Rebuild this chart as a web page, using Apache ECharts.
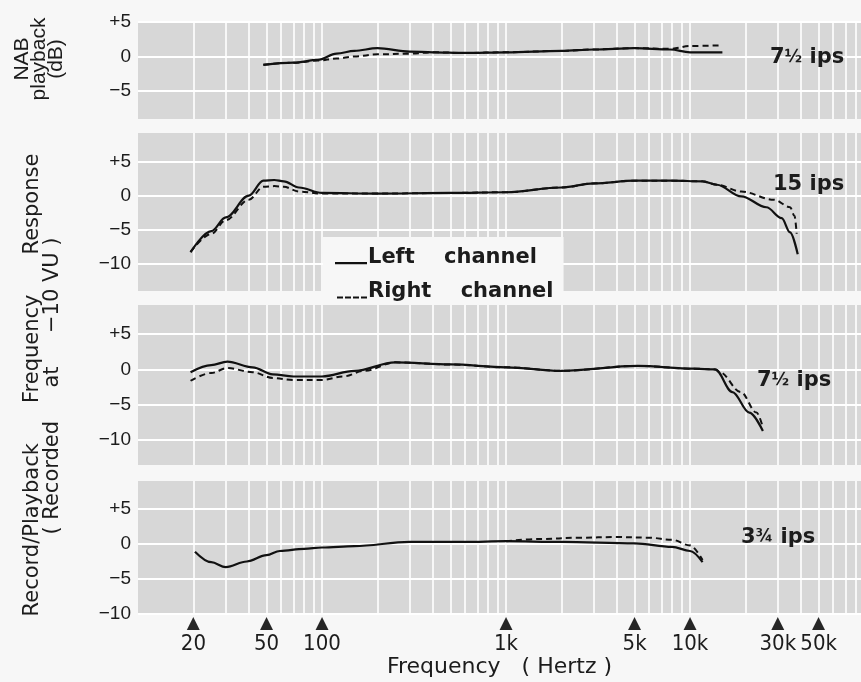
<!DOCTYPE html>
<html><head><meta charset="utf-8">
<script src="https://cdn.jsdelivr.net/npm/echarts@6/dist/echarts.min.js"></script>
<style>html,body{margin:0;padding:0;background:#f7f7f7}#c{width:861px;height:682px}</style>
</head><body><div id="c"></div><script>
// ---- data (frequency in Hz, response in dB) ----
const nabFreqL = [48, 70, 95, 120, 150, 200, 300, 400, 600, 1000, 2000, 3000, 5000, 7800, 10000, 15000];
const nabLeft  = [-1.2, -0.9, -0.5, 0.4, 0.8, 1.2, 0.7, 0.6, 0.5, 0.6, 0.8, 1.0, 1.2, 1.0, 0.6, 0.6];
const nabFreqR = [48, 70, 95, 120, 150, 200, 300, 400, 600, 1000, 2000, 3000, 5000, 7800, 10000, 15000];
const nabRight = [-1.2, -0.9, -0.6, -0.3, 0.0, 0.3, 0.4, 0.6, 0.5, 0.6, 0.8, 1.0, 1.2, 1.1, 1.5, 1.6];

const ips15FreqL = [19.3, 25, 30, 40, 48, 55, 62, 75, 100, 200, 500, 1000, 2000, 3000, 5000, 8000, 11700, 14000, 19000, 26000, 31500, 35000, 38500];
const ips15Left  = [-8.3, -5.2, -3.2, 0.0, 2.2, 2.3, 2.1, 1.2, 0.4, 0.3, 0.4, 0.5, 1.2, 1.8, 2.2, 2.2, 2.1, 1.6, -0.1, -1.7, -3.3, -5.4, -8.6];
const ips15FreqR = [19.3, 25, 30, 40, 48, 55, 62, 75, 100, 200, 500, 1000, 2000, 3000, 5000, 8000, 11700, 14000, 19000, 28600, 35000, 37000, 38000];
const ips15Right = [-8.3, -5.6, -3.6, -0.6, 1.3, 1.4, 1.3, 0.6, 0.3, 0.3, 0.4, 0.5, 1.2, 1.8, 2.2, 2.2, 2.1, 1.6, 0.6, -0.6, -1.7, -3.0, -5.6];

const ips75FreqL = [19.3, 25, 30.6, 42, 54, 70, 100, 150, 250, 500, 1000, 2000, 5200, 10500, 13700, 17000, 21000, 24900];
const ips75Left  = [-0.4, 0.6, 1.1, 0.3, -0.7, -1.0, -1.0, -0.2, 1.0, 0.7, 0.3, -0.2, 0.5, 0.1, 0.0, -3.2, -6.1, -8.7];
const ips75FreqR = [19.3, 25, 30.6, 42, 54, 70, 100, 130, 170, 250, 500, 1000, 2000, 5200, 10500, 13700, 14500, 18900, 23000, 24900];
const ips75Right = [-1.6, -0.5, 0.2, -0.4, -1.2, -1.5, -1.5, -1.0, -0.2, 1.0, 0.7, 0.3, -0.2, 0.5, 0.1, 0.0, -0.4, -3.2, -6.1, -8.2];

const ips375FreqL = [20.4, 25, 30, 39, 50, 59, 80, 100, 150, 300, 600, 1000, 2000, 5000, 8000, 10000, 11700];
const ips375Left  = [-1.1, -2.6, -3.3, -2.5, -1.6, -1.0, -0.7, -0.5, -0.3, 0.3, 0.3, 0.4, 0.3, 0.1, -0.4, -1.0, -2.6];
const ips375FreqR = [1000, 1500, 2500, 4000, 6000, 8000, 10000, 11700];
const ips375Right = [0.4, 0.7, 0.9, 1.0, 0.9, 0.6, -0.2, -2.3];

// ---- axis / tick definitions ----
const gridFreqs = [20, 30, 40, 50, 60, 70, 80, 90,
  100, 200, 300, 400, 500, 600, 700, 800, 900,
  1000, 2000, 3000, 4000, 5000, 6000, 7000, 8000, 9000,
  10000, 20000, 30000, 40000, 50000, 60000, 70000, 80000];
const tickFreqs  = [20, 50, 100, 1000, 5000, 10000, 30000, 50000];
const tickLabels = ['20', '50', '100', '1k', '5k', '10k', '30k', '50k'];
const dbTicksTop = [5, 0, -5];
const dbTicks    = [5, 0, -5, -10];
const speedWhole = ['7', '15', '7', '3'];
const speedFrac  = ['½', '', '½', '¾'];
const legendNames = ['Left channel', 'Right channel'];

const panelData = [
  [nabFreqL, nabLeft, nabFreqR, nabRight],
  [ips15FreqL, ips15Left, ips15FreqR, ips15Right],
  [ips75FreqL, ips75Left, ips75FreqR, ips75Right],
  [ips375FreqL, ips375Left, ips375FreqR, ips375Right]
];

// ---- layout ----
const FONT = "'Liberation Sans', Arial, sans-serif";
const WIDE = "'DejaVu Sans', sans-serif";
const COND = "'DejaVu Sans Condensed', 'DejaVu Sans', sans-serif";
const TEXT = '#1c1c1c';
const panels = [
  {top: 21,  height: 98,  min: -9,    max: 5.1, ticks: dbTicksTop},
  {top: 133, height: 158, min: -14,   max: 9.2, ticks: dbTicks},
  {top: 305, height: 160, min: -13.5, max: 9.1, ticks: dbTicks},
  {top: 481, height: 133, min: -10,   max: 9,   ticks: dbTicks}
];
const XMIN = 1, XMAX = 1 + 723 / 184;
const lg = Math.log10;
const fmtDb = v => v > 0 ? '+' + v : (v < 0 ? '\u2212' + (-v) : '0');

const grids = [], xAxes = [], yAxes = [], series = [];
panels.forEach((p, i) => {
  grids.push({left: 138, right: 0, top: p.top, height: p.height, show: true, z: 0,
    backgroundColor: '#d7d7d7', borderWidth: 0});
  const last = i === panels.length - 1;
  xAxes.push({type: 'value', gridIndex: i, min: XMIN, max: XMAX, z: 1,
    axisLine: {show: false},
    axisTick: {show: false, customValues: gridFreqs.map(lg)},
    splitLine: {show: true, lineStyle: {color: '#ffffff', width: 1.6}},
    axisLabel: last ? {
      show: true, customValues: tickFreqs.map(lg), margin: 2, hideOverlap: false,
      formatter: v => {
        const k = tickFreqs.findIndex(f => Math.abs(lg(f) - v) < 1e-6);
        return '{t|\u25B2}\n{v|' + (k >= 0 ? tickLabels[k] : '') + '}';
      },
      rich: {
        t: {fontSize: 17, lineHeight: 16, color: '#262626', fontFamily: WIDE},
        v: {fontSize: 22, lineHeight: 24, color: TEXT, fontFamily: COND}
      }
    } : {show: false},
    name: last ? 'Frequency   ( Hertz )' : '', nameLocation: 'middle', nameGap: 40,
    nameTextStyle: {fontSize: 22, color: TEXT, fontFamily: WIDE}
  });
  yAxes.push({type: 'value', gridIndex: i, min: p.min, max: p.max, z: 1,
    axisLine: {show: false},
    axisTick: {show: false, customValues: p.ticks},
    splitLine: {show: true, lineStyle: {color: '#ffffff', width: 2.2}},
    axisLabel: {customValues: p.ticks, formatter: fmtDb, margin: 7, fontSize: 19,
      color: TEXT, fontFamily: FONT}
  });
  const d = panelData[i];
  series.push({type: 'line', name: legendNames[0], xAxisIndex: i, yAxisIndex: i, z: 10,
    data: d[0].map((f, k) => [lg(f), d[1][k]]),
    showSymbol: false, symbol: 'none', smooth: 0.35, smoothMonotone: 'x',
    lineStyle: {color: '#111', width: 2.2, type: 'solid'}, itemStyle: {color: '#111'},
    animation: false, silent: true});
  series.push({type: 'line', name: legendNames[1], xAxisIndex: i, yAxisIndex: i, z: 10,
    data: d[2].map((f, k) => [lg(f), d[3][k]]),
    showSymbol: false, symbol: 'none', smooth: 0.35, smoothMonotone: 'x',
    lineStyle: {color: '#111', width: 2, type: [6, 4]}, itemStyle: {color: '#111'},
    animation: false, silent: true});
});

const speedPos = [[770, 58], [773, 185], [757, 381], [741, 538]];
const graphic = speedWhole.map((t, i) => ({
  type: 'text', x: speedPos[i][0], y: speedPos[i][1], z: 30,
  style: {text: t + (speedFrac[i] ? '{f|' + speedFrac[i] + '}' : '') + ' ips',
    font: 'bold 21px ' + WIDE, fill: TEXT, align: 'left', verticalAlign: 'middle',
    rich: {f: {font: 'bold 17px ' + WIDE, fill: TEXT, verticalAlign: 'middle'}}}
}));
graphic.push({type: 'text', x: 39, y: 59, rotation: Math.PI / 2, z: 30,
  style: {text: 'NAB\nplayback\n(dB)', font: '21px ' + FONT, lineHeight: 17, fill: TEXT,
    align: 'center', verticalAlign: 'middle'}});
graphic.push({type: 'text', x: 33, y: 385, rotation: Math.PI / 2, z: 30,
  style: {text: 'Record/Playback      Frequency      Response', font: '21px ' + WIDE, fill: TEXT,
    align: 'center', verticalAlign: 'middle'}});
graphic.push({type: 'text', x: 53, y: 386, rotation: Math.PI / 2, z: 30,
  style: {text: '( Recorded     at     \u221210 VU )', font: '21px ' + WIDE, fill: TEXT,
    align: 'center', verticalAlign: 'middle'}});

const solidIcon = 'path://M0,-12h0.01v0.01h-0.01zM0,0h34v2.2h-34z';
const dashIcon = 'path://M0,-12h0.01v0.01h-0.01zM2,0h6v2h-6zM10,0h6v2h-6zM18,0h6v2h-6zM26,0h6v2h-6z';

const chart = echarts.init(document.getElementById('c'), null, {renderer: 'canvas'});
chart.setOption({
  backgroundColor: '#f7f7f7',
  animation: false,
  grid: grids, xAxis: xAxes, yAxis: yAxes, series: series,
  legend: {data: [{name: legendNames[0], icon: solidIcon}, {name: legendNames[1], icon: dashIcon}],
    orient: 'vertical', left: 323, top: 237, z: 20,
    backgroundColor: '#f7f7f7', padding: [10, 10, 2, 12], itemWidth: 32, itemHeight: 14,
    itemGap: 13, selectedMode: false,
    itemStyle: {color: '#111', borderWidth: 0},
    formatter: n => n.replace(' ', '    '),
    textStyle: {fontSize: 21, fontWeight: 'bold', color: TEXT, fontFamily: WIDE, padding: [0, 0, 0, -4]}},
  graphic: graphic
});
</script></body></html>
